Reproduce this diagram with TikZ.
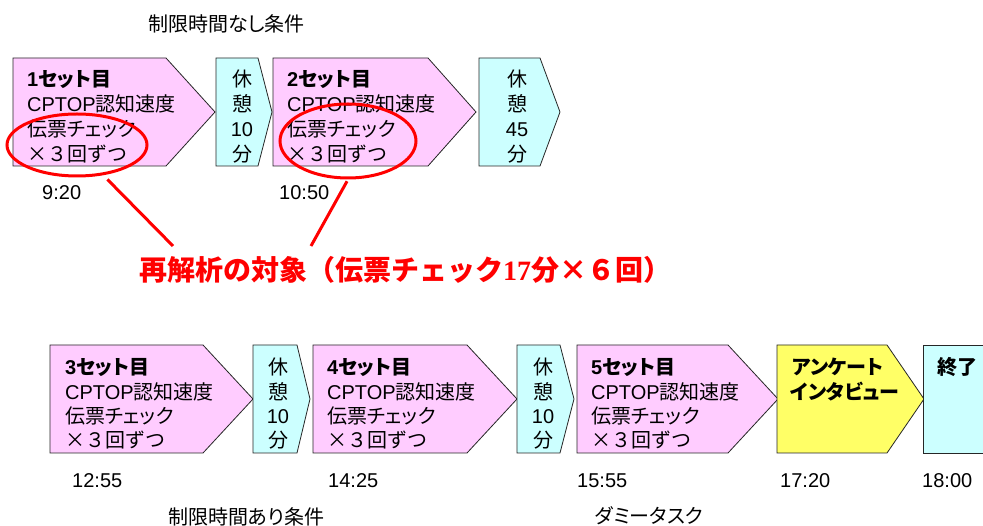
\documentclass[tikz,border=0pt]{standalone}
\usepackage{fontspec}
\usetikzlibrary{shapes.geometric}
\newfontfamily\jp[RawFeature=+palt]{Noto Sans CJK JP}
\newfontfamily\jpn{Noto Sans CJK JP}
\newfontfamily\lat{Liberation Sans}
\newfontfamily\ser{Liberation Serif}
\definecolor{pinkf}{HTML}{FFCCFF}
\definecolor{cyanf}{HTML}{CCFFFF}
\definecolor{yelf}{HTML}{FFFF66}
\definecolor{edge}{HTML}{262626}
\newcommand\fs{\fontsize{20}{25}\selectfont}
\newcommand\penta[6]{\draw[#1] (#2,#3) -- (#4,#3) -- (#5,{(#3+#6)/2}) -- (#4,#6) -- (#2,#6) -- cycle;}
\newcommand\setgroup[5]{%
  \node[txt,font=\jp\fs\bfseries] (#1t) at (#2,#3) {{\lat\bfseries #5}セット目};
  \node[txt] (#1a) at (#2,#3+#4) {{\lat CPTOP}認知速度};
  \node[txt] (#1b) at (#2,#3+2*#4) {伝票チェック};
  \node[txt,font=\jpn\fs] (#1c) at (#2,#3+3*#4) {×３回ずつ};
}
\newcommand\restgroup[5]{%
  \node[ctxt] (#1a) at (#2,#3) {休};
  \node[ctxt] (#1b) at (#2,#3+#4) {憩};
  \node[ctxt,font=\lat\fs] (#1c) at (#2,#3+2*#4) {#5};
  \node[ctxt] (#1d) at (#2,#3+3*#4) {分};
}
\tikzset{
  setbox/.style={draw=edge, fill=pinkf, line width=0.8pt, line join=miter},
  restbox/.style={draw=edge, fill=cyanf, line width=0.8pt},
  askbox/.style={draw=edge, fill=yelf, line width=0.8pt},
  txt/.style={inner sep=0pt, anchor=base west, font=\jp\fs},
  ctxt/.style={inner sep=0pt, anchor=base, font=\jp\fs},
  tm/.style={inner sep=0pt, anchor=base west, font=\lat\fs},
  hl/.style={draw=red, line width=3pt, ellipse, inner sep=0pt},
  redline/.style={draw=red, line width=3pt},
}
\begin{document}
\begin{tikzpicture}[x=1pt,y=-1pt]
\useasboundingbox[fill=white] (0,0) rectangle (983,526);
% titles
\node[txt] (cond1) at (148,32) {制限時間なし条件};
\node[txt] (cond2) at (168,524) {制限時間あり条件};
\node[txt] (dummy) at (595,523) {ダミータスク};
% top row shapes
\penta{setbox}{13}{58}{166}{215}{166}
\penta{restbox}{216}{58}{258}{272}{166}
\penta{setbox}{273}{58}{428}{476}{166}
\penta{restbox}{479}{58}{540}{560}{166}
% bottom row shapes
\penta{setbox}{50}{345}{203}{253}{453}
\penta{restbox}{253}{345}{297}{310}{453}
\penta{setbox}{313}{345}{467}{517}{453}
\penta{restbox}{517}{345}{560}{574}{453}
\penta{setbox}{577}{345}{728}{778}{453}
\penta{askbox}{777}{345}{887}{924}{453}
\draw[restbox] (923,345) rectangle (995,453);
% texts top
\setgroup{s1}{27}{87}{25}{1}
\restgroup{r1}{242}{87}{25}{10}
\setgroup{s2}{287}{87}{25}{2}
\restgroup{r2}{517}{87}{25}{45}
% texts bottom
\setgroup{s3}{65}{375}{24.3}{3}
\restgroup{r3}{278}{375}{24.3}{10}
\setgroup{s4}{327}{375}{24.3}{4}
\restgroup{r4}{543}{375}{24.3}{10}
\setgroup{s5}{591}{375}{24.3}{5}
\node[txt,font=\jp\fs\bfseries] (ask1) at (792,375) {アンケート};
\node[txt,font=\jp\fs\bfseries] (ask2) at (790,399.5) {インタビュー};
\node[txt,font=\jpn\fs\bfseries] (fin) at (937,375) {終了};
% times
\node[tm] (t1) at (42,200) {9:20};
\node[tm] (t2) at (279,200) {10:50};
\node[tm] (t3) at (72,487) {12:55};
\node[tm] (t4) at (328,487) {14:25};
\node[tm] (t5) at (577,487) {15:55};
\node[tm] (t6) at (780,487) {17:20};
\node[tm] (t7) at (922,487) {18:00};
% highlight
\node[hl, minimum width=140pt, minimum height=62pt] (e1) at (77,145) {};
\node[hl, minimum width=136pt, minimum height=74pt] (e2) at (348,141) {};
\node[inner sep=0pt, anchor=base west, text=red, font=\jpn\fontsize{28}{30}\selectfont\bfseries] (note) at (139,281) {再解析の対象（伝票チェック{\ser\bfseries 17}分×６回）};
\coordinate (p1) at (173,246);
\coordinate (p2) at (311,246);
\draw[redline, shorten <=6pt] (e1.-49) -- (p1);
\draw[redline, shorten <=2pt] (e2.south) -- (p2);
\end{tikzpicture}
\end{document}
